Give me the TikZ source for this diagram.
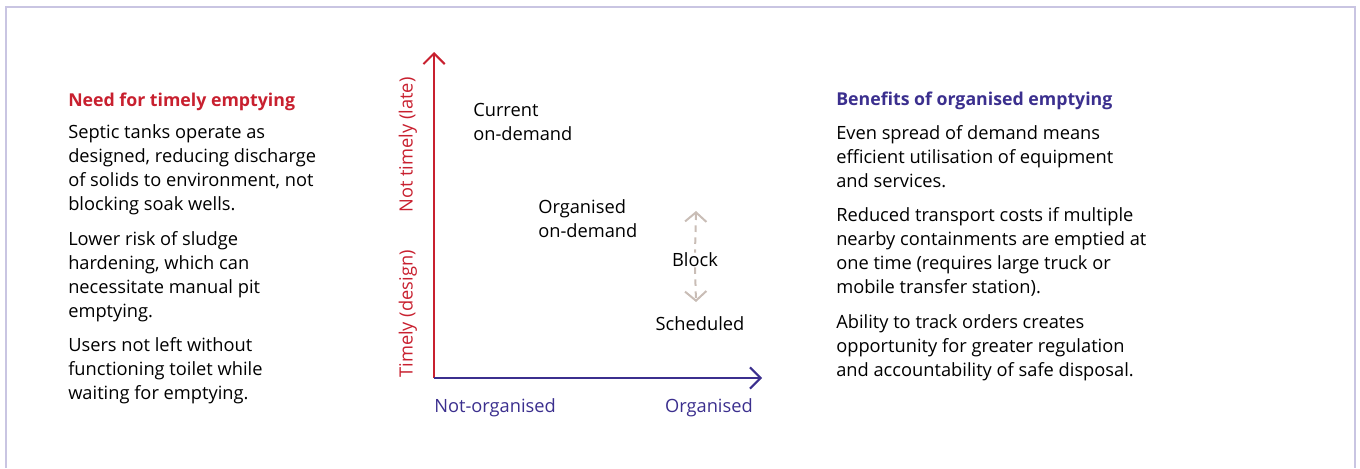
\documentclass[tikz,border=0pt]{standalone}
\usepackage{fontspec}
\setmainfont{Open Sans}
\usetikzlibrary{arrows.meta}
\definecolor{redc}{HTML}{C8202F}
\definecolor{purc}{HTML}{3B2F8E}
\definecolor{framec}{HTML}{C9C5E2}
\definecolor{blockc}{HTML}{C9BDB6}
\tikzset{
  txt/.style={inner sep=0pt, anchor=base west, font=\fontsize{13.7}{18}\selectfont, text=black},
  hdr/.style={txt, font=\fontsize{13.3}{18}\selectfont\bfseries},
  axl/.style={inner sep=0pt, font=\fontsize{13.7}{18}\selectfont},
  chev/.style={-{Straight Barb[length=8pt,width=16pt,line width=1.5pt]}},
}
\newcommand\plines[4]{%
  \foreach \t [count=\i] in {#4} {\node[txt] (#3\i) at (#1,{#2+24*(\i-1)}) {\t};}}
\begin{document}
\begin{tikzpicture}[x=0.75pt,y=-0.75pt]
\useasboundingbox (0,0) rectangle (1360,468);
\draw[framec, line width=1.5pt] (6,468) -- (6,7) -- (1355,7) -- (1355,468);
% left column
\node[hdr, text=redc] (lh) at (68,106) {Need for timely emptying};
\plines{68}{138}{la}{{Septic tanks operate as},{designed, reducing discharge},{of solids to environment, not},{blocking soak wells.}}
\plines{68}{245}{lb}{{Lower risk of sludge},{hardening, which can},{necessitate manual pit},{emptying.}}
\plines{68}{351}{lc}{{Users not left without},{functioning toilet while},{waiting for emptying.}}
% right column
\node[hdr, text=purc] (rh) at (836,105) {Benefits of organised emptying};
\plines{836}{139}{ra}{{Even spread of demand means},{efficient utilisation of equipment},{and services.}}
\plines{836}{221}{rb}{{Reduced transport costs if multiple},{nearby containments are emptied at},{one time (requires large truck or},{mobile transfer station).}}
\plines{836}{328}{rc}{{Ability to track orders creates},{opportunity for greater regulation},{and accountability of safe disposal.}}
% axes
\coordinate (o) at (434,378);
\coordinate (ytop) at (434,52);
\coordinate (xend) at (762,378);
\draw[redc, line width=1.5pt, chev] (o) -- (ytop);
\draw[purc, line width=1.5pt, chev] (o) -- (xend);
\node[axl, text=redc, rotate=90] (ylate) at (408,145) {Not timely (late)};
\node[axl, text=redc, rotate=90] (ydes) at (408,314) {Timely (design)};
\node[axl, text=purc, anchor=west] (xno) at (434,408) {Not-organised};
\node[axl, text=purc, anchor=east] (xorg) at (753,408) {Organised};
% chart texts
\plines{473}{116}{cur}{{Current},{on-demand}}
\plines{538}{213}{org}{{Organised},{on-demand}}
\node[axl] (blk) at (695,260) {Block};
\node[axl] (sch) at (700,324) {Scheduled};
\coordinate (btop) at (696,211);
\coordinate (bbot) at (696,302);
\draw[blockc, line width=1.5pt, dash pattern=on 5pt off 4pt, {Straight Barb[length=7pt,width=16pt,line width=1.5pt]}-] (btop) -- (blk.north);
\draw[blockc, line width=1.5pt, dash pattern=on 5pt off 4pt, -{Straight Barb[length=7pt,width=16pt,line width=1.5pt]}] (blk.south) -- (bbot);
\end{tikzpicture}
\end{document}
